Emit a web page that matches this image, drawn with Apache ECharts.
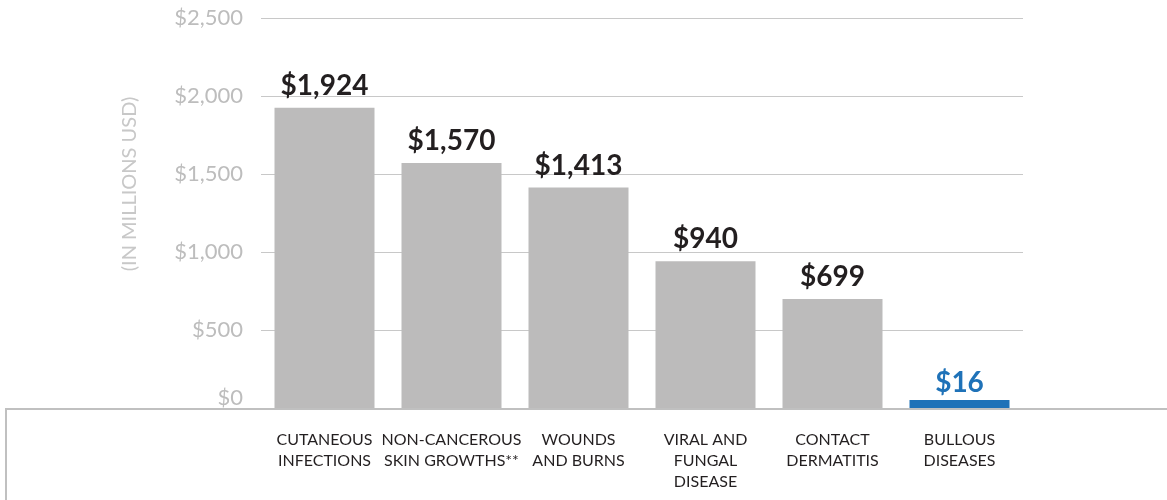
<!DOCTYPE html>
<html>
<head>
<meta charset="utf-8">
<script src="https://cdn.jsdelivr.net/npm/echarts@6/dist/echarts.min.js"></script>
<style>
html,body{margin:0;padding:0;background:#fff;}
#c{width:1167px;height:500px;}
</style>
</head>
<body>
<div id="c"></div>
<script>
const categories = ['CUTANEOUS\nINFECTIONS', 'NON-CANCEROUS\nSKIN GROWTHS**', 'WOUNDS\nAND BURNS', 'VIRAL AND\nFUNGAL\nDISEASE', 'CONTACT\nDERMATITIS', 'BULLOUS\nDISEASES'];
const values = [1924, 1570, 1413, 940, 699, 16];
const highlightIndex = 5;
const yTicks = {min: 0, max: 2500, interval: 500};
const yName = '(IN MILLIONS USD)';

const GRAY = '#bcbbbb';
const BLUE = '#1f72b8';
const fmt = v => '$' + v.toLocaleString('en-US');

const chart = echarts.init(document.getElementById('c'));
chart.setOption({
  animation: false,
  grid: {left: 261, right: 144, top: 18, bottom: 92},
  xAxis: {
    type: 'category',
    data: categories,
    axisLine: {show: false},
    axisTick: {show: false},
    axisLabel: {
      color: '#231f20', fontFamily: 'Lato', fontSize: 16, lineHeight: 21,
      margin: 21, interval: 0, verticalAlign: 'top'
    }
  },
  yAxis: {
    type: 'value',
    min: yTicks.min, max: yTicks.max, interval: yTicks.interval,
    axisLine: {show: false},
    axisTick: {show: false},
    splitLine: {lineStyle: {color: '#c8c8c8', width: 1}},
    axisLabel: {
      color: '#bdbdbd', fontFamily: 'Lato', fontSize: 22, margin: 18,
      formatter: v => v === 0 ? '{z|' + fmt(v) + '}' : fmt(v),
      rich: {z: {color: '#bdbdbd', fontFamily: 'Lato', fontSize: 22, padding: [0, 0, 20, 0]}}
    }
  },
  series: [{
    type: 'bar',
    barWidth: 100,
    barMinHeight: 8,
    data: values.map((v, i) => ({
      value: v,
      itemStyle: {color: i === highlightIndex ? BLUE : GRAY},
      label: i === highlightIndex
        ? {color: BLUE, distance: 3, fontWeight: 'bold', fontFamily: 'Lato', fontSize: 28}
        : {color: '#231f20'}
    })),
    label: {
      show: true, position: 'top', distance: 8,
      fontFamily: 'Lato', fontWeight: 'bold', fontSize: 28,
      formatter: p => fmt(p.value)
    }
  }]
});

const y0 = chart.convertToPixel({yAxisIndex: 0}, 0);
const yMid = chart.convertToPixel({yAxisIndex: 0}, 1250);
chart.setOption({
  graphic: [
    {type: 'line', shape: {x1: 5, y1: y0 + 1, x2: 1167, y2: y0 + 1}, style: {stroke: '#c0c0c0', lineWidth: 2}, z: 10},
    {type: 'line', shape: {x1: 6, y1: y0, x2: 6, y2: 500}, style: {stroke: '#c0c0c0', lineWidth: 2}, z: 10},
    {type: 'text', x: 130, y: yMid - 29, rotation: Math.PI / 2,
     style: {text: yName, fill: '#c8c8c8', font: '20px Lato', textAlign: 'center', textVerticalAlign: 'middle'}}
  ]
});
</script>
</body>
</html>
